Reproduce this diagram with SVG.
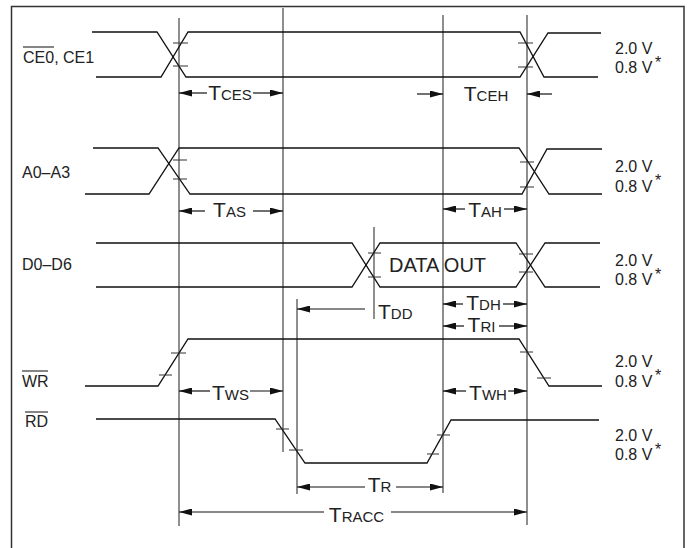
<svg xmlns="http://www.w3.org/2000/svg" width="689" height="548" viewBox="0 0 689 548">
<defs>
<style>
.sig{fill:none;stroke:#111;stroke-width:1.3;stroke-linejoin:miter}
.grid{fill:none;stroke:#444;stroke-width:1.2}
.tick{fill:none;stroke:#333;stroke-width:1.1}
.dim{fill:none;stroke:#111;stroke-width:1.2}
.ar{marker-end:url(#ah)}
.fr{fill:none;stroke:#333;stroke-width:1.5}
text{font-family:"Liberation Sans",Arial,Helvetica,sans-serif;fill:#222}
.lbl{font-size:16px}
.T{font-size:21px}
.s{font-size:15px}
.ov{fill:none;stroke:#222;stroke-width:1.1}
</style>
<marker id="ah" viewBox="0 0 13 7" refX="13" refY="3.5" markerWidth="13" markerHeight="7" markerUnits="userSpaceOnUse" orient="auto">
<path d="M0,0 L13,3.5 L0,7 z" fill="#111"/>
</marker>
</defs>
<rect x="0" y="0" width="689" height="548" fill="#fff"/>
<path class="fr" d="M11.5,552 V6.5 H684 V552"/>

<g id="gridlines">
<path class="grid" d="M179,18V526 M283,8V452 M443,15V493 M527,15V525 M297,299V494 M374,227V319"/>
</g>

<g id="ce">
<path class="sig" d="M92,32H157L186,77H520L548,33H601"/>
<path class="sig" d="M96,77H161L188,32H520L544,77H598"/>
<path class="tick" d="M173,43H188 M173,66H188 M518,43H533 M518,67H533"/>
<text class="lbl" x="23" y="63">CE0, CE1</text>
<path class="ov" d="M23,47H54"/>
<text class="lbl" x="615" y="54">2.0 V</text>
<text class="lbl" x="615" y="73">0.8 V</text>
<text class="lbl" x="655" y="68">*</text>
</g>

<g id="addr">
<path class="sig" d="M93,148H158L190,194H522L547,149H602"/>
<path class="sig" d="M85,194H149L179,148H519L549,194H602"/>
<path class="tick" d="M173,160H187 M173,179H187 M520,162H534 M520,187H534"/>
<text class="lbl" x="22" y="178">A0–A3</text>
<text class="lbl" x="615" y="172">2.0 V</text>
<text class="lbl" x="615" y="192">0.8 V</text>
<text class="lbl" x="655" y="186">*</text>
</g>

<g id="data">
<path class="sig" d="M96,243H352L380,287H516L545,243H600"/>
<path class="sig" d="M96,287H352L380,243H516L545,287H600"/>
<path class="tick" d="M368,253H381 M368,277H381 M519,254H533 M519,272H533"/>
<text x="389" y="272" style="font-size:20px">DATA OUT</text>
<text class="lbl" x="22" y="270">D0–D6</text>
<text class="lbl" x="615" y="266">2.0 V</text>
<text class="lbl" x="615" y="285">0.8 V</text>
<text class="lbl" x="655" y="280">*</text>
</g>

<g id="wr">
<path class="sig" d="M85,386H158L188,339H519L549,386H602"/>
<path class="tick" d="M171,353H186 M159,375H172 M520,352H533 M537,378H551"/>
<text class="lbl" x="22" y="387">WR</text>
<path class="ov" d="M22,371H48"/>
<text class="lbl" x="615" y="367">2.0 V</text>
<text class="lbl" x="615" y="387">0.8 V</text>
<text class="lbl" x="655" y="381">*</text>
</g>

<g id="rd">
<path class="sig" d="M96,419H275L305,463H427L451,420H599"/>
<path class="tick" d="M276,429H289 M289,450H303 M427,454H439 M437,435H450"/>
<text class="lbl" x="25" y="427">RD</text>
<path class="ov" d="M25,412H48"/>
<text class="lbl" x="615" y="441">2.0 V</text>
<text class="lbl" x="615" y="460">0.8 V</text>
<text class="lbl" x="655" y="455">*</text>
</g>

<g id="connectors">
<path class="dim ar" d="M207,93H179"/><path class="dim ar" d="M253,93H283"/>
<path class="dim ar" d="M417,94H443"/><path class="dim ar" d="M552,94H527"/>
<path class="dim ar" d="M205,211H179"/><path class="dim ar" d="M253,211H283"/>
<path class="dim ar" d="M465,209H443"/><path class="dim ar" d="M504,209H527"/>
<path class="dim ar" d="M365,309H297"/>
<path class="dim ar" d="M463,304H443"/><path class="dim ar" d="M503,304H527"/>
<path class="dim ar" d="M464,326H443"/><path class="dim ar" d="M499,326H527"/>
<path class="dim ar" d="M210,391H179"/><path class="dim ar" d="M250,391H283"/>
<path class="dim ar" d="M466,391H443"/><path class="dim ar" d="M508,391H527"/>
<path class="dim ar" d="M365,487H297"/><path class="dim ar" d="M396,487H443"/>
<path class="dim ar" d="M324,512H179"/><path class="dim ar" d="M391,512H527"/>
</g>

<g id="timing-labels" text-anchor="middle">
<text x="230" y="100"><tspan class="T">T</tspan><tspan class="s">CES</tspan></text>
<text x="486" y="101"><tspan class="T">T</tspan><tspan class="s">CEH</tspan></text>
<text x="229.5" y="217"><tspan class="T">T</tspan><tspan class="s">AS</tspan></text>
<text x="485" y="217"><tspan class="T">T</tspan><tspan class="s">AH</tspan></text>
<text x="483.5" y="310"><tspan class="T">T</tspan><tspan class="s">DH</tspan></text>
<text x="481.5" y="332"><tspan class="T">T</tspan><tspan class="s">RI</tspan></text>
<text x="230.5" y="400"><tspan class="T">T</tspan><tspan class="s">WS</tspan></text>
<text x="488" y="400"><tspan class="T">T</tspan><tspan class="s">WH</tspan></text>
<text x="379.5" y="492"><tspan class="T">T</tspan><tspan class="s">R</tspan></text>
<text x="356.5" y="522"><tspan class="T">T</tspan><tspan class="s">RACC</tspan></text>
</g>
<text x="378" y="319"><tspan class="T">T</tspan><tspan class="s">DD</tspan></text>
</svg>
